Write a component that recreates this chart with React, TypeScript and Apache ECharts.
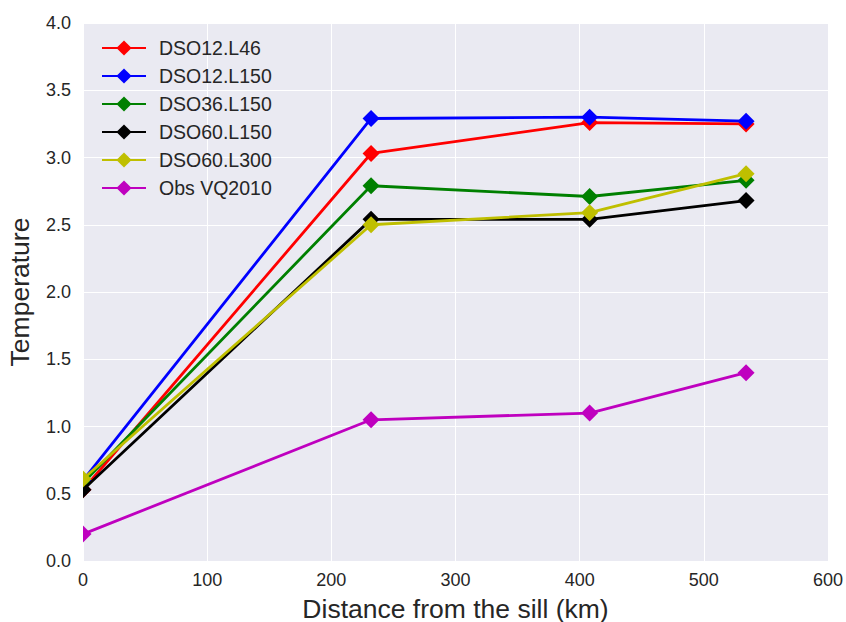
import React, { useEffect, useRef } from "react";
import * as echarts from "echarts";

const distances = [0, 232, 408, 534];
const seriesNames = ["DSO12.L46", "DSO12.L150", "DSO36.L150", "DSO60.L150", "DSO60.L300", "Obs VQ2010"];
const colors = ["#ff0000", "#0000ff", "#008000", "#000000", "#bfbf00", "#bf00bf"];
const dso12L46 = [0.53, 3.03, 3.26, 3.25];
const dso12L150 = [0.6, 3.29, 3.3, 3.27];
const dso36L150 = [0.58, 2.79, 2.71, 2.83];
const dso60L150 = [0.53, 2.54, 2.54, 2.68];
const dso60L300 = [0.61, 2.5, 2.59, 2.88];
const obsVQ2010 = [0.2, 1.05, 1.1, 1.4];
const allValues = [dso12L46, dso12L150, dso36L150, dso60L150, dso60L300, obsVQ2010];

export default function App() {
  const ref = useRef<HTMLDivElement>(null);
  useEffect(() => {
    if (!ref.current) return;
    const chart = echarts.init(ref.current, null, { renderer: "svg" });
    const font = "Liberation Sans, Arial, sans-serif";
    chart.setOption({
      animation: false,
      backgroundColor: "#ffffff",
      textStyle: { fontFamily: font },
      grid: {
        left: 83,
        right: 18,
        top: 23,
        bottom: 61,
        containLabel: false,
        outerBoundsMode: "none",
        show: true,
        backgroundColor: "#EAEAF2",
        borderWidth: 0,
      },
      graphic: [
        {
          type: "rect",
          z: 100,
          silent: true,
          shape: { x: 72, y: 14, width: 11, height: 556 },
          style: { fill: "#ffffff" },
        },
      ],
      legend: {
        left: 96,
        top: 33,
        orient: "vertical",
        itemGap: 8,
        itemWidth: 44,
        itemHeight: 19,
        textStyle: { fontSize: 19.5, color: "#262626", fontFamily: font, padding: [0, 0, 0, 8] },
        data: seriesNames,
      },
      xAxis: {
        type: "value",
        min: 0,
        max: 600,
        interval: 100,
        name: "Distance from the sill (km)",
        nameLocation: "middle",
        nameGap: 34,
        nameTextStyle: { fontSize: 26.5, color: "#262626", fontFamily: font },
        axisLine: { show: false },
        axisTick: { show: false },
        axisLabel: { fontSize: 18, color: "#262626", margin: 10, fontFamily: font },
        splitLine: { show: true, lineStyle: { color: "#ffffff", width: 1 } },
      },
      yAxis: {
        type: "value",
        min: 0,
        max: 4,
        interval: 0.5,
        name: "Temperature",
        nameLocation: "middle",
        nameGap: 50,
        nameTextStyle: { fontSize: 26.5, color: "#262626", fontFamily: font },
        axisLine: { show: false },
        axisTick: { show: false },
        axisLabel: { fontSize: 18, color: "#262626", margin: 12, fontFamily: font, formatter: (v: number) => v.toFixed(1) },
        splitLine: { show: true, lineStyle: { color: "#ffffff", width: 1 } },
      },
      series: seriesNames.map((name, i) => ({
        name,
        type: "line",
        data: distances.map((d, j) => [d, allValues[i][j]]),
        color: colors[i],
        symbol: "diamond",
        symbolSize: 17,
        showAllSymbol: true,
        clip: true,
        lineStyle: { width: 2.8, color: colors[i] },
        itemStyle: { color: colors[i] },
        z: 2 + i,
      })),
    });
    return () => chart.dispose();
  }, []);
  return <div ref={ref} style={{ position: "absolute", left: 0, top: 0, width: 846, height: 622 }} />;
}
